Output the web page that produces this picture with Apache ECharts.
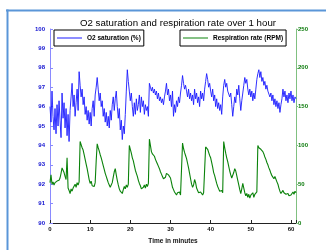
<!DOCTYPE html>
<html><head><meta charset="utf-8">
<script src="https://cdn.jsdelivr.net/npm/echarts@6/dist/echarts.min.js"></script>
<style>html,body{margin:0;padding:0;background:#fff}#c{width:326px;height:250px}</style>
</head><body><div id="c"></div>
<script>
const titleText = 'O2 saturation and respiration rate over 1 hour';
const seriesNames = ['O2 saturation (%)', 'Respiration rate (RPM)'];
const xLabel = 'Time in minutes';
const sampleMinutes = 0.25; // one reading every 15 s
const o2Values = [
96.0,95.2,96.8,95.5,94.8,95.9,94.6,96.1,
95.0,96.3,95.3,94.4,96.7,95.4,96.2,94.9,
95.9,94.5,95.6,94.2,95.8,96.5,97.2,96.0,
96.6,95.5,96.2,96.9,95.8,97.8,97.1,96.5,
96.9,96.1,96.5,95.6,96.0,95.3,95.8,95.1,
95.7,95.0,95.9,96.3,95.5,96.6,97.0,97.5,
96.9,96.3,96.7,96.0,96.3,95.5,95.9,95.2,
95.7,95.0,95.5,94.9,95.8,95.3,96.1,96.5,
95.8,96.4,96.8,96.0,95.4,95.9,94.8,95.3,
94.3,95.0,94.6,95.6,96.8,97.9,97.3,96.8,
96.3,96.7,96.0,95.5,96.2,95.6,96.4,95.8,
96.1,96.6,95.7,96.5,96.0,96.3,95.6,96.1,
95.8,96.0,95.5,97.2,97.0,96.8,97.0,96.7,
96.9,96.6,96.8,96.4,96.7,96.3,96.5,96.2,
96.4,96.1,96.5,96.8,97.2,96.6,96.9,96.3,
96.6,96.0,96.8,95.5,96.1,95.7,96.3,96.0,
96.5,96.2,96.7,97.1,97.6,97.2,96.9,97.1,
96.8,96.5,96.9,96.4,96.7,96.3,96.6,96.1,
96.9,96.4,96.7,96.2,96.5,96.0,96.8,96.4,
96.7,96.3,96.9,97.3,97.7,97.4,97.0,97.2,
96.8,96.5,96.9,96.3,96.6,96.0,96.4,95.9,
96.2,95.8,96.1,95.6,96.5,97.1,97.4,97.0,
97.2,96.8,96.9,96.5,96.7,96.1,95.5,96.0,
96.5,96.2,96.9,96.6,97.1,96.4,95.8,96.3,
96.7,97.1,97.5,97.2,97.4,96.9,96.6,96.9,
96.5,96.8,96.3,96.7,96.4,96.9,97.4,97.7,
97.9,97.5,97.8,97.3,97.5,97.1,97.3,96.9,
97.1,96.8,96.9,96.5,96.7,96.3,96.6,96.1,
96.4,96.0,96.3,95.9,96.2,95.7,96.1,96.4,
96.9,96.5,96.8,96.3,96.6,96.2,96.7,96.4,
96.8,96.3,96.6,96.2,96.5,96.4
];
const rpmValues = [
52,62,50,53,49,52,51,54,
52,55,58,64,71,68,65,60,
56,84,45,42,38,44,41,45,
47,50,46,52,49,53,105,101,
97,94,88,82,76,70,63,56,
51,54,48,50,47,52,80,102,
97,93,88,84,79,74,69,64,
60,56,52,49,46,44,52,59,
66,70,62,55,49,44,41,40,
38,43,47,44,49,46,50,100,
95,90,84,80,74,68,64,60,
55,51,48,44,42,46,49,45,
50,47,51,108,100,92,89,87,
86,82,79,76,73,70,66,63,
60,57,55,59,64,65,62,60,
58,52,46,43,40,38,36,39,
37,40,36,38,103,96,91,87,
83,77,71,64,57,50,46,49,
56,52,45,42,39,37,40,38,
36,39,37,98,100,95,91,87,
84,78,72,65,61,56,51,47,
44,41,40,42,39,105,97,90,
84,79,73,67,62,58,56,65,
70,67,61,55,49,43,38,44,
51,45,39,35,38,33,37,32,
36,34,39,33,37,35,40,100,
97,99,95,96,92,89,85,82,
78,75,71,68,64,61,59,57,
60,58,53,50,45,41,38,40,
42,39,41,37,36,38,35,37,
36,38,40,37,41,39
];
const xTicks = [0, 10, 20, 30, 40, 50, 60];
const leftTicks = [90, 91, 92, 93, 94, 95, 96, 97, 98, 99, 100];
const rightTicks = [0, 50, 100, 150, 200, 250];

const font = 'Arial, "Liberation Sans", Helvetica, sans-serif';
const chart = echarts.init(document.getElementById('c'), null, {renderer: 'canvas'});
const toPairs = arr => arr.map((v, i) => [i * sampleMinutes, v]);
const legendBase = {
  top: 30, padding: [4, 3, 4, 3], itemWidth: 25, itemHeight: 1, icon: 'rect',
  borderColor: '#000', borderWidth: 1, backgroundColor: '#fff',
  selectedMode: false,
  textStyle: {fontFamily: font, fontSize: 6.5, fontWeight: 'bold', color: '#000', lineHeight: 8}
};
chart.setOption({
  animation: false,
  backgroundColor: '#fff',
  title: {
    text: titleText, left: 173, top: 13, textAlign: 'center',
    textStyle: {fontFamily: font, fontSize: 9.7, fontWeight: 'normal', color: '#000'}
  },
  legend: [
    Object.assign({}, legendBase, {data: [seriesNames[0]], left: 54}),
    Object.assign({}, legendBase, {data: [seriesNames[1]], left: 180})
  ],
  grid: {left: 50, right: 30, top: 29, bottom: 23, containLabel: false},
  xAxis: {
    type: 'value', min: xTicks[0], max: 61.25, interval: 10,
    name: xLabel, nameLocation: 'middle', nameGap: 15,
    nameTextStyle: {fontFamily: font, fontSize: 6.5, fontWeight: 'bold', color: '#111'},
    axisLine: {lineStyle: {color: '#222', width: 1}},
    axisTick: {inside: true, length: 3, lineStyle: {color: '#222'}},
    axisLabel: {fontFamily: font, fontSize: 6, fontWeight: 'bold', color: '#111', margin: 3,
      formatter: v => xTicks.indexOf(v) >= 0 ? String(v) : ''},
    splitLine: {show: false}
  },
  yAxis: [
    {
      type: 'value', min: leftTicks[0], max: leftTicks[leftTicks.length - 1], interval: 1,
      position: 'left',
      axisLine: {show: true, lineStyle: {color: '#8a8aff', width: 1}},
      axisTick: {show: true, inside: true, length: 3, lineStyle: {color: '#8a8aff'}},
      axisLabel: {fontFamily: font, fontSize: 6, fontWeight: 'bold', color: '#1010d0', margin: 5},
      splitLine: {show: false}
    },
    {
      type: 'value', min: rightTicks[0], max: rightTicks[rightTicks.length - 1], interval: 50,
      position: 'right',
      axisLine: {show: true, lineStyle: {color: '#80c080', width: 1}},
      axisTick: {show: true, inside: false, length: 2, lineStyle: {color: '#80c080'}},
      axisLabel: {fontFamily: font, fontSize: 6, fontWeight: 'bold', color: '#0a7a0a', margin: 2},
      splitLine: {show: false}
    }
  ],
  series: [
    {name: seriesNames[0], type: 'line', xAxisIndex: 0, yAxisIndex: 0, data: toPairs(o2Values),
      symbol: 'none', lineStyle: {color: '#1a1aff', width: 0.9}, itemStyle: {color: '#1a1aff'}},
    {name: seriesNames[1], type: 'line', xAxisIndex: 0, yAxisIndex: 1, data: toPairs(rpmValues),
      symbol: 'none', lineStyle: {color: '#0a820a', width: 1.1}, itemStyle: {color: '#0a820a'}}
  ],
  graphic: [
    {type: 'line', shape: {x1: 6, y1: 10.5, x2: 326, y2: 10.5}, style: {stroke: '#5a96d8', lineWidth: 2}, silent: true},
    {type: 'line', shape: {x1: 7.5, y1: 9.5, x2: 7.5, y2: 250}, style: {stroke: '#5a96d8', lineWidth: 2}, silent: true}
  ]
});
</script></body></html>
